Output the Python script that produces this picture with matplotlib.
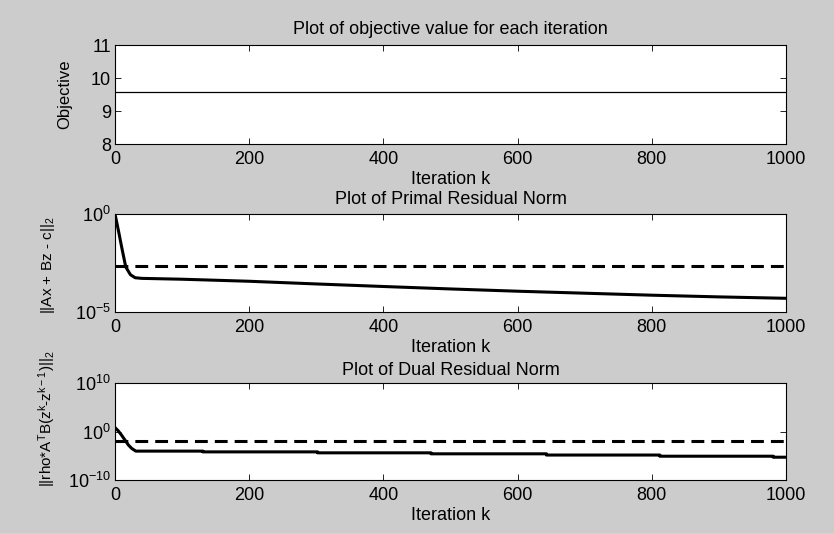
import numpy as np
import matplotlib
matplotlib.use("Agg")
import matplotlib.pyplot as plt
from matplotlib.ticker import NullLocator

plt.rcParams['font.family'] = ['Liberation Sans', 'DejaVu Sans']
plt.rcParams['mathtext.fontset'] = 'custom'
plt.rcParams['mathtext.rm'] = 'Liberation Sans'
plt.rcParams['mathtext.it'] = 'Liberation Sans'
plt.rcParams['mathtext.default'] = 'regular'

# objective value (constant over all iterations)
obj_k = [0, 1000]
obj_val = [9.58, 9.58]

# primal residual norm
primal_k = [0, 3, 6, 10, 16, 23, 30, 40, 100, 200, 300, 400, 500, 600, 700, 800, 900, 1000]
primal_r = [1.0, 0.32, 0.1, 0.02, 2.0e-3, 8.0e-4, 5.6e-4, 5.2e-4, 4.7e-4, 3.7e-4,
            2.7e-4, 2.0e-4, 1.5e-4, 1.15e-4, 9.1e-5, 7.2e-5, 5.9e-5, 5.0e-5]
primal_eps = 2.1e-3

# dual residual norm (stepped after the initial drop)
dual_k = [0, 5, 10, 15, 20, 25, 31, 131, 131, 302, 302, 471, 471, 643, 643,
          812, 812, 981, 981, 1000]
dual_s = [6.3, 1.3, 0.16, 0.016, 1.6e-3, 3.2e-4, 9e-5, 9e-5, 6.3e-5, 6.3e-5,
          4e-5, 4e-5, 2.5e-5, 2.5e-5, 1.4e-5, 1.4e-5, 8e-6, 8e-6, 5e-6, 5e-6]
dual_eps = 1.2e-2

fig = plt.figure(figsize=(8.34, 5.33), dpi=100, facecolor='#cccccc')

W, H = 834, 533
def place(top, bottom):
    return [115 / W, 1 - bottom / H, (786 - 115) / W, (bottom - top) / H]

ax1 = fig.add_axes(place(45, 144))
ax2 = fig.add_axes(place(214, 312))
ax3 = fig.add_axes(place(383, 480))

fs = 13
for ax in (ax1, ax2, ax3):
    ax.set_xlim(0, 1000)
    ax.set_xticks([0, 200, 400, 600, 800, 1000])
    ax.tick_params(direction='in', top=True, right=True, length=4, width=0.6,
                   labelsize=fs)
    ax.tick_params(axis='x', pad=5)
    ax.tick_params(axis='y', pad=3)
    for s in ax.spines.values():
        s.set_linewidth(0.8)
    ax.set_xlabel('Iteration k', fontsize=fs, labelpad=2)

# objective
ax1.plot(obj_k, obj_val, color='black', lw=0.9)
ax1.set_ylim(8, 11)
ax1.set_yticks([8, 9, 10, 11])
ax1.set_ylabel('Objective', fontsize=12)
ax1.yaxis.set_label_coords(-0.064, 0.5)
ax1.set_title('Plot of objective value for each iteration', fontsize=fs, pad=8)

# primal
ax2.semilogy(primal_k, primal_r, color='black', lw=2.2)
ax2.plot([0, 1000], [primal_eps, primal_eps], color='black', lw=2.2,
         linestyle=(0, (4.2, 2.3)))
ax2.set_ylim(1e-5, 1e0)
ax2.set_yticks([1e-5, 1e0])
ax2.yaxis.set_minor_locator(NullLocator())
ax2.set_ylabel('||Ax + Bz - c||$_2$', fontsize=11)
ax2.yaxis.set_label_coords(-0.086, 0.48)
ax2.set_title('Plot of Primal Residual Norm', fontsize=fs, pad=7)

# dual
ax3.semilogy(dual_k, dual_s, color='black', lw=2.2)
ax3.plot([0, 1000], [dual_eps, dual_eps], color='black', lw=2.2,
         linestyle=(0, (4.2, 2.3)))
ax3.set_ylim(1e-10, 1e10)
ax3.set_yticks([1e-10, 1e0, 1e10])
ax3.yaxis.set_minor_locator(NullLocator())
ax3.set_ylabel('||rho*A$^T$B(z$^k$-z$^{k-1}$)||$_2$', fontsize=11)
ax3.yaxis.set_label_coords(-0.086, 0.63)
ax3.set_title('Plot of Dual Residual Norm', fontsize=fs, pad=6)

fig.savefig('out.png', dpi=100, facecolor=fig.get_facecolor())
